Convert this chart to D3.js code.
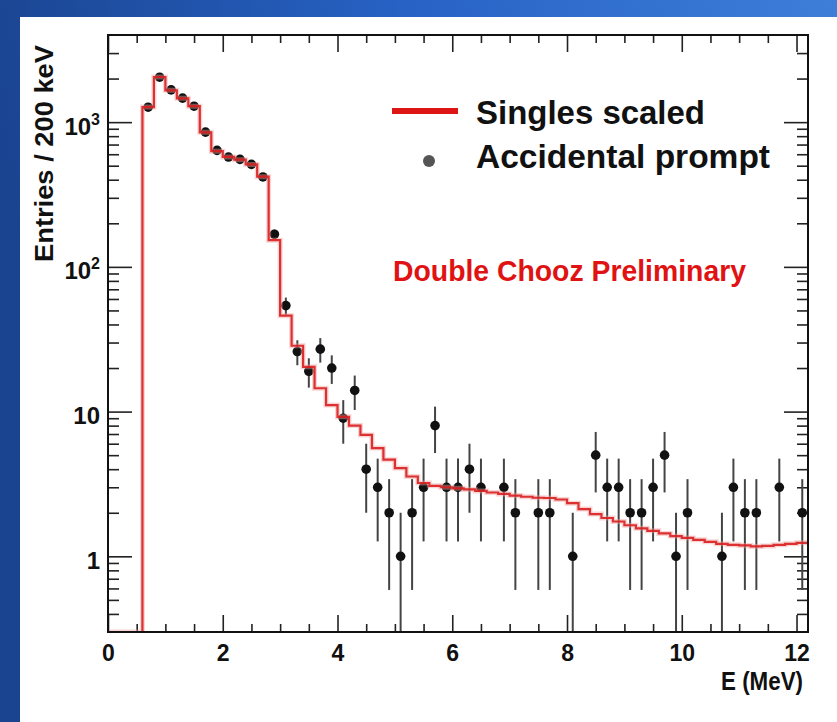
<!DOCTYPE html>
<html>
<head>
<meta charset="utf-8">
<script src="https://cdn.jsdelivr.net/npm/d3@7"></script>
<style>
  body { margin: 0; background: #fff; }
  svg { display: block; }
  text { font-family: "Liberation Sans", Arial, Helvetica, sans-serif; font-weight: bold; }
</style>
</head>
<body>
<svg id="chart" width="837" height="722"></svg>
<script>
// ---- Histogram: singles spectrum scaled (200 keV bins starting at 0 MeV) ----
const binWidth = 0.2;
const singlesFirstEdge = 0.0;
const singlesScaled = [
  0, 0, 0,
  1270, 2050, 1660, 1460, 1290, 850, 630, 575, 550, 510, 420,
  153, 46, 28.5, 20.4, 14.5, 11.1, 9.2, 8.0, 6.9, 5.6,
  4.65, 4.07, 3.56, 3.21, 3.07, 3.0, 2.95, 2.9, 2.83, 2.76,
  2.70, 2.63, 2.58, 2.54, 2.53, 2.47, 2.33, 2.12, 1.96, 1.84,
  1.74, 1.64, 1.56, 1.50, 1.44, 1.38, 1.34, 1.30, 1.26, 1.22,
  1.20, 1.19, 1.17, 1.18, 1.20, 1.22, 1.24
];

// ---- Accidental prompt events: bin centres (MeV) and counts ----
const promptEnergy = [
  0.7, 0.9, 1.1, 1.3, 1.5, 1.7, 1.9, 2.1, 2.3, 2.5, 2.7, 2.9, 3.1, 3.3, 3.5,
  3.7, 3.9, 4.1, 4.3, 4.5, 4.7, 4.9, 5.1, 5.3, 5.5, 5.7, 5.9, 6.1, 6.3, 6.5,
  6.9, 7.1, 7.5, 7.7, 8.1, 8.5, 8.7, 8.9, 9.1, 9.3, 9.5, 9.7, 9.9, 10.1,
  10.7, 10.9, 11.1, 11.3, 11.7, 12.1
];
const promptCounts = [
  1268, 2043, 1672, 1465, 1289, 853, 638, 574, 553, 511, 418, 168, 54, 26, 19,
  27, 20, 9, 14, 4, 3, 2, 1, 2, 3, 8, 3, 3, 4, 3,
  3, 2, 2, 2, 1, 5, 3, 3, 2, 2, 3, 5, 1, 2,
  1, 3, 2, 2, 3, 2
];

// ---- Axis ticks ----
const xMajorTicks = [0, 2, 4, 6, 8, 10, 12];
const xMinorTicks = [0.5, 1, 1.5, 2.5, 3, 3.5, 4.5, 5, 5.5, 6.5, 7, 7.5, 8.5, 9, 9.5, 10.5, 11, 11.5];
const yMajorTicks = [1, 10, 100, 1000];
const yMinorTicks = [0.4, 0.5, 0.6, 0.7, 0.8, 0.9, 2, 3, 4, 5, 6, 7, 8, 9,
  20, 30, 40, 50, 60, 70, 80, 90, 200, 300, 400, 500, 600, 700, 800, 900, 2000, 3000];
const xDomain = [0, 12.2];
const yDomain = [0.3, 4000];

const svg = d3.select("#chart");
const W = 837, H = 722;
const plot = { left: 108, right: 808, top: 35, bottom: 632 };

// Slide background: blue gradient with white panel
const defs = svg.append("defs");
const grad = defs.append("linearGradient").attr("id", "bg").attr("x1", "0").attr("x2", "1").attr("y1", "0.2").attr("y2", "0");
grad.append("stop").attr("offset", "0").attr("stop-color", "#1a4490");
grad.append("stop").attr("offset", "0.5").attr("stop-color", "#2762c4");
grad.append("stop").attr("offset", "1").attr("stop-color", "#3e7ed9");
svg.append("rect").attr("width", W).attr("height", H).attr("fill", "url(#bg)");
svg.append("rect").attr("x", 20).attr("y", 17).attr("width", W - 20).attr("height", H - 17).attr("fill", "#fff");

defs.append("clipPath").attr("id", "plotclip").append("rect")
  .attr("x", plot.left).attr("y", plot.top)
  .attr("width", plot.right - plot.left).attr("height", plot.bottom - plot.top);

const x = d3.scaleLinear().domain(xDomain).range([plot.left, plot.right]);
const y = d3.scaleLog().domain(yDomain).range([plot.bottom, plot.top]);

// ---- Axes (ROOT-style ticks on all four sides, pointing inwards) ----
function styleAxis(g) {
  g.select(".domain").remove();
  g.selectAll(".tick line").attr("stroke", "#222").attr("stroke-width", 1.6);
}
const noLabel = () => "";

svg.append("g").attr("transform", `translate(0,${plot.bottom})`)
  .call(d3.axisBottom(x).tickValues(xMinorTicks).tickSize(-8).tickFormat(noLabel)).call(styleAxis);
const xMajorG = svg.append("g").attr("transform", `translate(0,${plot.bottom})`)
  .call(d3.axisBottom(x).tickValues(xMajorTicks).tickSize(-17).tickPadding(0).tickFormat(d3.format("d"))).call(styleAxis);
xMajorG.selectAll(".tick text")
  .attr("y", 29).attr("dy", null)
  .attr("font-size", 23).attr("fill", "#111");

svg.append("g").attr("transform", `translate(0,${plot.top})`)
  .call(d3.axisTop(x).tickValues(xMinorTicks).tickSize(-8).tickFormat(noLabel)).call(styleAxis);
svg.append("g").attr("transform", `translate(0,${plot.top})`)
  .call(d3.axisTop(x).tickValues(xMajorTicks).tickSize(-17).tickFormat(noLabel)).call(styleAxis);

svg.append("g").attr("transform", `translate(${plot.left},0)`)
  .call(d3.axisLeft(y).tickValues(yMinorTicks).tickSize(-11).tickFormat(noLabel)).call(styleAxis);
const yMajorG = svg.append("g").attr("transform", `translate(${plot.left},0)`)
  .call(d3.axisLeft(y).tickValues(yMajorTicks).tickSize(-24).tickFormat(noLabel)).call(styleAxis);

svg.append("g").attr("transform", `translate(${plot.right},0)`)
  .call(d3.axisRight(y).tickValues(yMinorTicks).tickSize(-11).tickFormat(noLabel)).call(styleAxis);
svg.append("g").attr("transform", `translate(${plot.right},0)`)
  .call(d3.axisRight(y).tickValues(yMajorTicks).tickSize(-24).tickFormat(noLabel)).call(styleAxis);

// Y tick labels: 1, 10, 10^2, 10^3
yMajorG.selectAll(".tick").each(function (d) {
  const t = d3.select(this).append("text")
    .attr("x", -8).attr("y", 12)
    .attr("text-anchor", "end").attr("font-size", 24).attr("fill", "#111");
  const e = Math.round(Math.log10(d));
  if (e <= 1) {
    t.text(String(d));
  } else {
    t.append("tspan").text("10");
    t.append("tspan").attr("font-size", 16).attr("dy", -10).text(String(e));
  }
});

// ---- Singles histogram (step line) ----
const edges = singlesScaled.map((v, i) => singlesFirstEdge + i * binWidth);
const stepPts = singlesScaled.map((v, i) => [edges[i], v > 0 ? v : yDomain[0]]);
stepPts.push([singlesFirstEdge + singlesScaled.length * binWidth, singlesScaled[singlesScaled.length - 1]]);
const stepLine = d3.line().x(d => x(d[0])).y(d => y(d[1])).curve(d3.curveStepAfter);

const dataG = svg.append("g").attr("clip-path", "url(#plotclip)");

// ---- Accidental prompt points with Poisson error bars ----
const pts = promptEnergy.map((e, i) => ({ e, n: promptCounts[i] }));
dataG.selectAll("line.err").data(pts).join("line")
  .attr("class", "err")
  .attr("x1", d => x(d.e)).attr("x2", d => x(d.e))
  .attr("y1", d => y(d.n + Math.sqrt(d.n)))
  .attr("y2", d => y(Math.max(d.n - Math.sqrt(d.n), yDomain[0] * 0.5)))
  .attr("stroke", "#444").attr("stroke-width", 2);

dataG.selectAll("circle.pt").data(pts).join("circle")
  .attr("class", "pt")
  .attr("cx", d => x(d.e)).attr("cy", d => y(d.n)).attr("r", 4.8)
  .attr("fill", "#111");

dataG.append("path").datum(stepPts)
  .attr("d", stepLine).attr("fill", "none")
  .attr("stroke", "#f0a0a0").attr("stroke-width", 5).attr("stroke-opacity", 0.45);
dataG.append("path").datum(stepPts)
  .attr("d", stepLine).attr("fill", "none")
  .attr("stroke", "#d91e1e").attr("stroke-width", 2.2).attr("stroke-opacity", 0.9);

// ---- Frame ----
svg.append("rect")
  .attr("x", plot.left).attr("y", plot.top)
  .attr("width", plot.right - plot.left).attr("height", plot.bottom - plot.top)
  .attr("fill", "none").attr("stroke", "#111").attr("stroke-width", 2);

// ---- Legend ----
svg.append("line").attr("x1", 392).attr("x2", 458).attr("y1", 111).attr("y2", 111)
  .attr("stroke", "#dd1515").attr("stroke-width", 6);
svg.append("text").attr("x", 476).attr("y", 124)
  .attr("font-size", 34).attr("fill", "#111")
  .attr("textLength", 229).attr("lengthAdjust", "spacingAndGlyphs")
  .text("Singles scaled");
svg.append("circle").attr("cx", 429).attr("cy", 161).attr("r", 6).attr("fill", "#555");
svg.append("text").attr("x", 476).attr("y", 168)
  .attr("font-size", 34).attr("fill", "#111")
  .attr("textLength", 294).attr("lengthAdjust", "spacingAndGlyphs")
  .text("Accidental prompt");

svg.append("text").attr("x", 393).attr("y", 281)
  .attr("font-size", 30).attr("fill", "#e01212")
  .attr("textLength", 353).attr("lengthAdjust", "spacingAndGlyphs")
  .text("Double Chooz Preliminary");

// ---- Axis titles ----
svg.append("text").attr("x", 803).attr("y", 690)
  .attr("text-anchor", "end").attr("font-size", 26).attr("fill", "#111")
  .attr("textLength", 82).attr("lengthAdjust", "spacingAndGlyphs")
  .text("E (MeV)");
svg.append("text")
  .attr("transform", "translate(53,262) rotate(-90)")
  .attr("font-size", 25).attr("fill", "#111")
  .attr("textLength", 217).attr("lengthAdjust", "spacingAndGlyphs")
  .text("Entries / 200 keV");
</script>
</body>
</html>
